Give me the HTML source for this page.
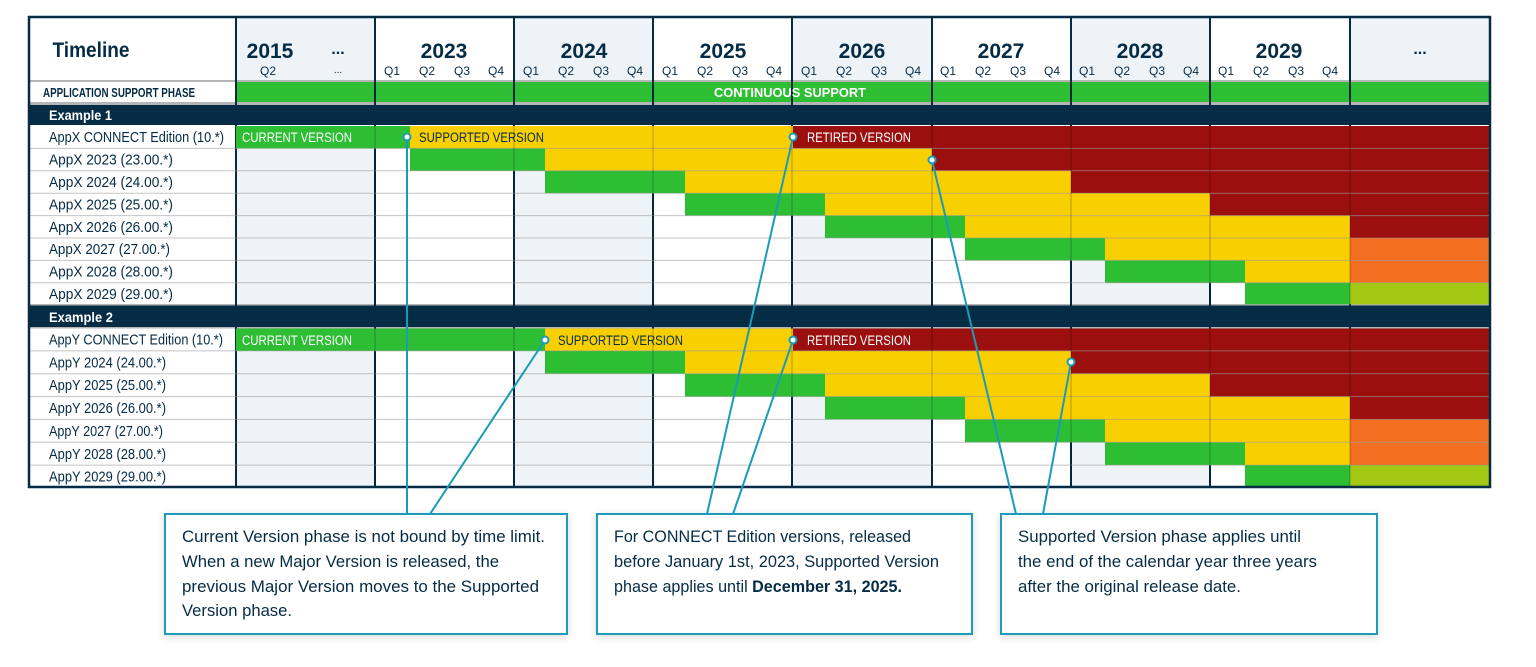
<!DOCTYPE html>
<html><head><meta charset="utf-8"><style>
html,body{margin:0;padding:0;background:#fff;}
svg{display:block;font-family:"Liberation Sans Narrow","Liberation Sans",sans-serif;}
</style></head><body>
<svg width="1536" height="667" viewBox="0 0 1536 667" xmlns="http://www.w3.org/2000/svg">
<defs>
<filter id="sh" x="-5%" y="-10%" width="110%" height="125%"><feDropShadow dx="0" dy="2" stdDeviation="4" flood-color="#000" flood-opacity="0.15"/></filter>
</defs>
<rect x="28" y="16" width="1463" height="472" fill="#fff"/>
<g fill="#eef3f7">
<rect x="236" y="16" width="139" height="64"/>
<rect x="514" y="16" width="139" height="64"/>
<rect x="792" y="16" width="140" height="64"/>
<rect x="1071" y="16" width="139" height="64"/>
<rect x="1350" y="16" width="140" height="64"/>
<rect x="236" y="126" width="139" height="362"/>
<rect x="514" y="126" width="139" height="362"/>
<rect x="792" y="126" width="140" height="362"/>
<rect x="1071" y="126" width="139" height="362"/>
</g>
<rect x="30" y="80" width="1460" height="2" fill="#b5b5b5"/>
<rect x="236" y="82" width="1254" height="20" fill="#2dbe34"/>
<rect x="30" y="102" width="1460" height="3" fill="#b5b5b5"/>
<rect x="30" y="105" width="1460" height="20" fill="#052b45"/>
<rect x="30" y="305" width="1460" height="22" fill="#052b45"/>
<rect x="30" y="304" width="1460" height="1.5" fill="#b5b5b5"/>
<rect x="30" y="327" width="1460" height="1.5" fill="#b5b5b5"/>
<g stroke="#052b45" stroke-width="2">
<line x1="236" x2="236" y1="16" y2="488"/><line x1="375" x2="375" y1="16" y2="488"/>
<line x1="514" x2="514" y1="16" y2="488"/><line x1="653" x2="653" y1="16" y2="488"/>
<line x1="792" x2="792" y1="16" y2="488"/><line x1="932" x2="932" y1="16" y2="488"/>
<line x1="1071" x2="1071" y1="16" y2="488"/><line x1="1210" x2="1210" y1="16" y2="488"/>
<line x1="1350" x2="1350" y1="16" y2="488"/>
</g>
<g>
<rect x="236" y="126" width="174" height="22.4" fill="#2dbe34"/><rect x="410" y="126" width="383" height="22.4" fill="#f8cf00"/><rect x="793" y="126" width="697" height="22.4" fill="#9b0f0f"/>
<rect x="410" y="148.4" width="135" height="22.4" fill="#2dbe34"/><rect x="545" y="148.4" width="387" height="22.4" fill="#f8cf00"/><rect x="932" y="148.4" width="558" height="22.4" fill="#9b0f0f"/>
<rect x="545" y="170.8" width="140" height="22.4" fill="#2dbe34"/><rect x="685" y="170.8" width="386" height="22.4" fill="#f8cf00"/><rect x="1071" y="170.8" width="419" height="22.4" fill="#9b0f0f"/>
<rect x="685" y="193.2" width="140" height="22.4" fill="#2dbe34"/><rect x="825" y="193.2" width="385" height="22.4" fill="#f8cf00"/><rect x="1210" y="193.2" width="280" height="22.4" fill="#9b0f0f"/>
<rect x="825" y="215.6" width="140" height="22.4" fill="#2dbe34"/><rect x="965" y="215.6" width="385" height="22.4" fill="#f8cf00"/><rect x="1350" y="215.6" width="140" height="22.4" fill="#9b0f0f"/>
<rect x="965" y="238" width="140" height="22.4" fill="#2dbe34"/><rect x="1105" y="238" width="245" height="22.4" fill="#f8cf00"/><rect x="1350" y="238" width="140" height="22.4" fill="#f26f21"/>
<rect x="1105" y="260.4" width="140" height="22.4" fill="#2dbe34"/><rect x="1245" y="260.4" width="105" height="22.4" fill="#f8cf00"/><rect x="1350" y="260.4" width="140" height="22.4" fill="#f26f21"/>
<rect x="1245" y="282.8" width="105" height="21.5" fill="#2dbe34"/><rect x="1350" y="282.8" width="140" height="21.5" fill="#a3c813"/>
</g>
<g>
<rect x="236" y="328.5" width="309" height="22.4" fill="#2dbe34"/><rect x="545" y="328.5" width="248" height="22.4" fill="#f8cf00"/><rect x="793" y="328.5" width="697" height="22.4" fill="#9b0f0f"/>
<rect x="545" y="350.9" width="140" height="22.8" fill="#2dbe34"/><rect x="685" y="350.9" width="386" height="22.8" fill="#f8cf00"/><rect x="1071" y="350.9" width="419" height="22.8" fill="#9b0f0f"/>
<rect x="685" y="373.7" width="140" height="22.9" fill="#2dbe34"/><rect x="825" y="373.7" width="385" height="22.9" fill="#f8cf00"/><rect x="1210" y="373.7" width="280" height="22.9" fill="#9b0f0f"/>
<rect x="825" y="396.6" width="140" height="22.8" fill="#2dbe34"/><rect x="965" y="396.6" width="385" height="22.8" fill="#f8cf00"/><rect x="1350" y="396.6" width="140" height="22.8" fill="#9b0f0f"/>
<rect x="965" y="419.4" width="140" height="22.9" fill="#2dbe34"/><rect x="1105" y="419.4" width="245" height="22.9" fill="#f8cf00"/><rect x="1350" y="419.4" width="140" height="22.9" fill="#f26f21"/>
<rect x="1105" y="442.3" width="140" height="22.8" fill="#2dbe34"/><rect x="1245" y="442.3" width="105" height="22.8" fill="#f8cf00"/><rect x="1350" y="442.3" width="140" height="22.8" fill="#f26f21"/>
<rect x="1245" y="465.1" width="105" height="22.9" fill="#2dbe34"/><rect x="1350" y="465.1" width="140" height="22.9" fill="#a3c813"/>
</g>
<!-- grid over bars -->
<g stroke="rgba(150,150,150,0.55)" stroke-width="1">
<line x1="30" x2="1490" y1="148.4" y2="148.4"/><line x1="30" x2="1490" y1="170.8" y2="170.8"/>
<line x1="30" x2="1490" y1="193.2" y2="193.2"/><line x1="30" x2="1490" y1="215.6" y2="215.6"/>
<line x1="30" x2="1490" y1="238" y2="238"/><line x1="30" x2="1490" y1="260.4" y2="260.4"/>
<line x1="30" x2="1490" y1="282.8" y2="282.8"/>
<line x1="30" x2="1490" y1="350.9" y2="350.9"/><line x1="30" x2="1490" y1="373.7" y2="373.7"/>
<line x1="30" x2="1490" y1="396.6" y2="396.6"/><line x1="30" x2="1490" y1="419.4" y2="419.4"/>
<line x1="30" x2="1490" y1="442.3" y2="442.3"/><line x1="30" x2="1490" y1="465.1" y2="465.1"/>
</g>
<g stroke="rgba(0,0,0,0.13)" stroke-width="2">
<line x1="375" x2="375" y1="82" y2="102"/><line x1="514" x2="514" y1="82" y2="102"/><line x1="653" x2="653" y1="82" y2="102"/><line x1="792" x2="792" y1="82" y2="102"/><line x1="932" x2="932" y1="82" y2="102"/><line x1="1071" x2="1071" y1="82" y2="102"/><line x1="1210" x2="1210" y1="82" y2="102"/><line x1="1350" x2="1350" y1="82" y2="102"/>
<line x1="375" x2="375" y1="126" y2="305"/><line x1="514" x2="514" y1="126" y2="305"/><line x1="653" x2="653" y1="126" y2="305"/><line x1="792" x2="792" y1="126" y2="305"/><line x1="932" x2="932" y1="126" y2="305"/><line x1="1071" x2="1071" y1="126" y2="305"/><line x1="1210" x2="1210" y1="126" y2="305"/><line x1="1350" x2="1350" y1="126" y2="305"/>
<line x1="375" x2="375" y1="328" y2="488"/><line x1="514" x2="514" y1="328" y2="488"/><line x1="653" x2="653" y1="328" y2="488"/><line x1="792" x2="792" y1="328" y2="488"/><line x1="932" x2="932" y1="328" y2="488"/><line x1="1071" x2="1071" y1="328" y2="488"/><line x1="1210" x2="1210" y1="328" y2="488"/><line x1="1350" x2="1350" y1="328" y2="488"/>
</g>
<rect x="29" y="17" width="1461" height="470" fill="none" stroke="#052b45" stroke-width="2.5"/>
<g fill="#052b45" font-weight="bold" font-size="21" text-anchor="middle">
<text x="91" y="57" textLength="77" lengthAdjust="spacingAndGlyphs">Timeline</text>
<text x="270" y="58">2015</text>
<text x="444" y="58">2023</text><text x="584" y="58">2024</text><text x="723" y="58">2025</text>
<text x="862" y="58">2026</text><text x="1001" y="58">2027</text><text x="1140" y="58">2028</text><text x="1279" y="58">2029</text>
<text x="338" y="54" font-size="16">...</text><text x="1420" y="54" font-size="16">...</text>
</g>
<g fill="#052b45" font-size="12" text-anchor="middle">
<text x="268" y="75">Q2</text><text x="338" y="73" font-size="10">...</text>
<text x="392" y="75">Q1</text><text x="427" y="75">Q2</text><text x="462" y="75">Q3</text><text x="496" y="75">Q4</text>
<text x="531" y="75">Q1</text><text x="566" y="75">Q2</text><text x="601" y="75">Q3</text><text x="635" y="75">Q4</text>
<text x="670" y="75">Q1</text><text x="705" y="75">Q2</text><text x="740" y="75">Q3</text><text x="774" y="75">Q4</text>
<text x="809" y="75">Q1</text><text x="844" y="75">Q2</text><text x="879" y="75">Q3</text><text x="913" y="75">Q4</text>
<text x="948" y="75">Q1</text><text x="983" y="75">Q2</text><text x="1018" y="75">Q3</text><text x="1052" y="75">Q4</text>
<text x="1087" y="75">Q1</text><text x="1122" y="75">Q2</text><text x="1157" y="75">Q3</text><text x="1191" y="75">Q4</text>
<text x="1226" y="75">Q1</text><text x="1261" y="75">Q2</text><text x="1296" y="75">Q3</text><text x="1330" y="75">Q4</text>
</g>
<text x="43" y="97" fill="#052b45" font-weight="bold" font-size="13" textLength="152" lengthAdjust="spacingAndGlyphs">APPLICATION SUPPORT PHASE</text>
<text x="790" y="97" fill="#fff" font-weight="bold" font-size="13" text-anchor="middle" textLength="152" lengthAdjust="spacingAndGlyphs">CONTINUOUS SUPPORT</text>
<text x="49" y="120" fill="#fff" font-weight="bold" font-size="14" textLength="63" lengthAdjust="spacingAndGlyphs">Example 1</text>
<text x="49" y="322" fill="#fff" font-weight="bold" font-size="14" textLength="64" lengthAdjust="spacingAndGlyphs">Example 2</text>
<g fill="#052b45" font-size="14.5">
<text x="49" y="142" textLength="175" lengthAdjust="spacingAndGlyphs">AppX CONNECT Edition (10.*)</text>
<text x="49" y="164.5" textLength="124" lengthAdjust="spacingAndGlyphs">AppX 2023 (23.00.*)</text>
<text x="49" y="187" textLength="124" lengthAdjust="spacingAndGlyphs">AppX 2024 (24.00.*)</text>
<text x="49" y="209.5" textLength="124" lengthAdjust="spacingAndGlyphs">AppX 2025 (25.00.*)</text>
<text x="49" y="231.8" textLength="124" lengthAdjust="spacingAndGlyphs">AppX 2026 (26.00.*)</text>
<text x="49" y="254.2" textLength="121" lengthAdjust="spacingAndGlyphs">AppX 2027 (27.00.*)</text>
<text x="49" y="276.6" textLength="124" lengthAdjust="spacingAndGlyphs">AppX 2028 (28.00.*)</text>
<text x="49" y="299" textLength="124" lengthAdjust="spacingAndGlyphs">AppX 2029 (29.00.*)</text>
<text x="49" y="344.5" textLength="174" lengthAdjust="spacingAndGlyphs">AppY CONNECT Edition (10.*)</text>
<text x="49" y="367.4" textLength="117" lengthAdjust="spacingAndGlyphs">AppY 2024 (24.00.*)</text>
<text x="49" y="390.2" textLength="117" lengthAdjust="spacingAndGlyphs">AppY 2025 (25.00.*)</text>
<text x="49" y="413.1" textLength="117" lengthAdjust="spacingAndGlyphs">AppY 2026 (26.00.*)</text>
<text x="49" y="435.9" textLength="114" lengthAdjust="spacingAndGlyphs">AppY 2027 (27.00.*)</text>
<text x="49" y="458.8" textLength="117" lengthAdjust="spacingAndGlyphs">AppY 2028 (28.00.*)</text>
<text x="49" y="481.6" textLength="117" lengthAdjust="spacingAndGlyphs">AppY 2029 (29.00.*)</text>
</g>
<g font-size="13.5">
<text x="242" y="142" fill="#fff" textLength="110" lengthAdjust="spacingAndGlyphs">CURRENT VERSION</text>
<text x="419" y="142" fill="#052b45" textLength="125" lengthAdjust="spacingAndGlyphs">SUPPORTED VERSION</text>
<text x="807" y="142" fill="#fff" textLength="104" lengthAdjust="spacingAndGlyphs">RETIRED VERSION</text>
<text x="242" y="345" fill="#fff" textLength="110" lengthAdjust="spacingAndGlyphs">CURRENT VERSION</text>
<text x="558" y="345" fill="#052b45" textLength="125" lengthAdjust="spacingAndGlyphs">SUPPORTED VERSION</text>
<text x="807" y="345" fill="#fff" textLength="104" lengthAdjust="spacingAndGlyphs">RETIRED VERSION</text>
</g>
<g fill="#fff" stroke="#1a9cb8" stroke-width="2" filter="url(#sh)">
<rect x="165" y="514" width="402" height="120"/>
<rect x="597" y="514" width="375" height="120"/>
<rect x="1001" y="514" width="376" height="120"/>
</g>
<g stroke="#1a9cb8" stroke-width="2">
<line x1="407" y1="137" x2="407" y2="514"/>
<line x1="545" y1="340" x2="430" y2="514"/>
<line x1="793" y1="137" x2="707" y2="514"/>
<line x1="793" y1="340" x2="733" y2="514"/>
<line x1="932" y1="160" x2="1016" y2="514"/>
<line x1="1071" y1="362" x2="1043" y2="514"/>
</g>
<g fill="#fff" stroke="#1a9cb8" stroke-width="2">
<circle cx="407" cy="137" r="3.5"/><circle cx="793" cy="137" r="3.5"/><circle cx="932" cy="160" r="3.5"/>
<circle cx="545" cy="340" r="3.5"/><circle cx="793" cy="340" r="3.5"/><circle cx="1071" cy="362" r="3.5"/>
</g>
<g fill="#052b45" font-size="16.5">
<text x="182" y="542" textLength="363" lengthAdjust="spacingAndGlyphs">Current Version phase is not bound by time limit.</text>
<text x="182" y="567" textLength="317" lengthAdjust="spacingAndGlyphs">When a new Major Version is released, the</text>
<text x="182" y="592" textLength="357" lengthAdjust="spacingAndGlyphs">previous Major Version moves to the Supported</text>
<text x="182" y="616" textLength="110" lengthAdjust="spacingAndGlyphs">Version phase.</text>
<text x="614" y="542" textLength="297" lengthAdjust="spacingAndGlyphs">For CONNECT Edition versions, released</text>
<text x="614" y="567" textLength="325" lengthAdjust="spacingAndGlyphs">before January 1st, 2023, Supported Version</text>
<text x="614" y="592" textLength="288" lengthAdjust="spacingAndGlyphs">phase applies until <tspan font-weight="bold">December 31, 2025.</tspan></text>
<text x="1018" y="542" textLength="283" lengthAdjust="spacingAndGlyphs">Supported Version phase applies until</text>
<text x="1018" y="567" textLength="299" lengthAdjust="spacingAndGlyphs">the end of the calendar year three years</text>
<text x="1018" y="592" textLength="223" lengthAdjust="spacingAndGlyphs">after the original release date.</text>
</g>
</svg>
</body></html>
